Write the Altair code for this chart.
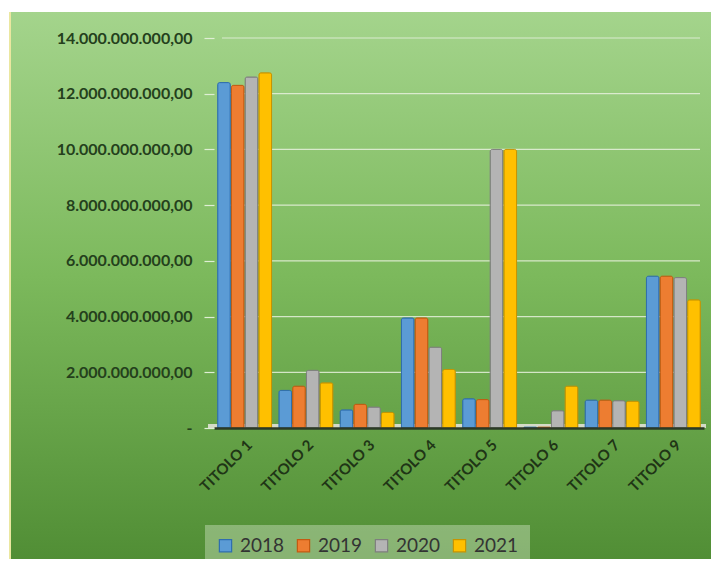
import altair as alt
import pandas as pd

categories = ["TITOLO 1", "TITOLO 2", "TITOLO 3", "TITOLO 4", "TITOLO 5", "TITOLO 6", "TITOLO 7", "TITOLO 9"]
years = ["2018", "2019", "2020", "2021"]
v2018 = [12.4e9, 1.35e9, 0.65e9, 3.95e9, 1.05e9, 0.03e9, 1.0e9, 5.45e9]
v2019 = [12.3e9, 1.5e9, 0.85e9, 3.95e9, 1.02e9, 0.03e9, 1.0e9, 5.45e9]
v2020 = [12.6e9, 2.07e9, 0.75e9, 2.9e9, 10.0e9, 0.62e9, 0.98e9, 5.4e9]
v2021 = [12.75e9, 1.62e9, 0.56e9, 2.1e9, 10.0e9, 1.5e9, 0.96e9, 4.6e9]
y_ticks = [0, 2e9, 4e9, 6e9, 8e9, 10e9, 12e9, 14e9]
bar_colors = ["#5b9bd5", "#ed7d31", "#b4b4b4", "#ffc000"]
bar_strokes = ["#2e6db0", "#c55a11", "#7f7f7f", "#c89400"]

rows = []
for yr, vals in zip(years, [v2018, v2019, v2020, v2021]):
    for c, v in zip(categories, vals):
        rows.append({"cat": c, "year": yr, "value": v})
df = pd.DataFrame(rows)
grid_df = pd.DataFrame({"v": y_ticks[1:]})

W, H = 490, 390

bg = alt.Chart(alt.Data(values=[{}])).mark_rect(
    fill=alt.Gradient(
        gradient="linear",
        stops=[
            alt.GradientStop(color="#a4d48c", offset=0),
            alt.GradientStop(color="#7cb95c", offset=0.45),
            alt.GradientStop(color="#4b8830", offset=1),
        ],
        x1=0, x2=0, y1=0, y2=1,
    )
).encode(x=alt.value(-205), x2=alt.value(520), y=alt.value(-26), y2=alt.value(560))

edge = alt.Chart(alt.Data(values=[{}])).mark_rule(color="#ebe7a0", strokeWidth=2).encode(
    x=alt.value(-204), y=alt.value(-26), y2=alt.value(560)
)

grid = alt.Chart(grid_df).mark_rule(color="#e6f0dc", strokeWidth=1.2, opacity=0.85).encode(
    y=alt.Y("v:Q", scale=alt.Scale(domain=[0, 14e9], nice=False)),
    x=alt.value(8), x2=alt.value(W - 4),
)

floor = alt.Chart(alt.Data(values=[{}])).mark_rect(color="#d4dbc8").encode(
    x=alt.value(-6), x2=alt.value(W + 2), y=alt.value(H - 4), y2=alt.value(H)
)

bars = alt.Chart(df).mark_bar(strokeWidth=1, cornerRadiusTopLeft=2, cornerRadiusTopRight=2).encode(
    x=alt.X("cat:N", sort=categories,
            scale=alt.Scale(paddingInner=0.12, paddingOuter=0.06),
            axis=alt.Axis(title=None, labelAngle=-45, labelFont="Lato", labelFontSize=15,
                          labelFontWeight="bold", labelColor="#1f3516", ticks=False,
                          labelPadding=9, domainColor="#2c3a26", domainWidth=2.5, zindex=1)),
    xOffset=alt.XOffset("year:N", sort=years, scale=alt.Scale(paddingInner=0.08)),
    y=alt.Y("value:Q", scale=alt.Scale(domain=[0, 14e9], nice=False),
            axis=alt.Axis(title=None, values=y_ticks, grid=False, domain=False,
                          tickSize=10, tickColor="#dfeed4", tickWidth=1.2,
                          labelPadding=12, labelFont="Lato", labelFontSize=16,
                          labelFontWeight="bold", labelColor="#24401c", zindex=1,
                          labelExpr="datum.value == 0 ? '-' : replace(format(datum.value, ','), regexp(',', 'g'), '.') + ',00'")),
    fill=alt.Color("year:N", sort=years,
                   scale=alt.Scale(domain=years, range=bar_colors),
                   legend=alt.Legend(title=None, orient="none", direction="horizontal",
                                     legendX=-9, legendY=487, fillColor="rgba(225,240,215,0.38)",
                                     padding=11, symbolType="square", symbolSize=150,
                                     symbolStrokeWidth=1.2,
                                     labelFont="Lato", labelFontSize=19, labelColor="#333333",
                                     columnPadding=9, symbolOffset=0, labelOffset=5)),
    stroke=alt.Stroke("year:N", sort=years, scale=alt.Scale(domain=years, range=bar_strokes), legend=None),
)

chart = alt.layer(bg, edge, grid, floor, bars).properties(
    width=W, height=H,
    autosize=alt.AutoSizeParams(type="none"),
    padding={"left": 206, "top": 30, "right": 7, "bottom": 131},
).configure_view(stroke=None)

chart.save("out.html", embed_options={"renderer": "svg", "actions": False})
